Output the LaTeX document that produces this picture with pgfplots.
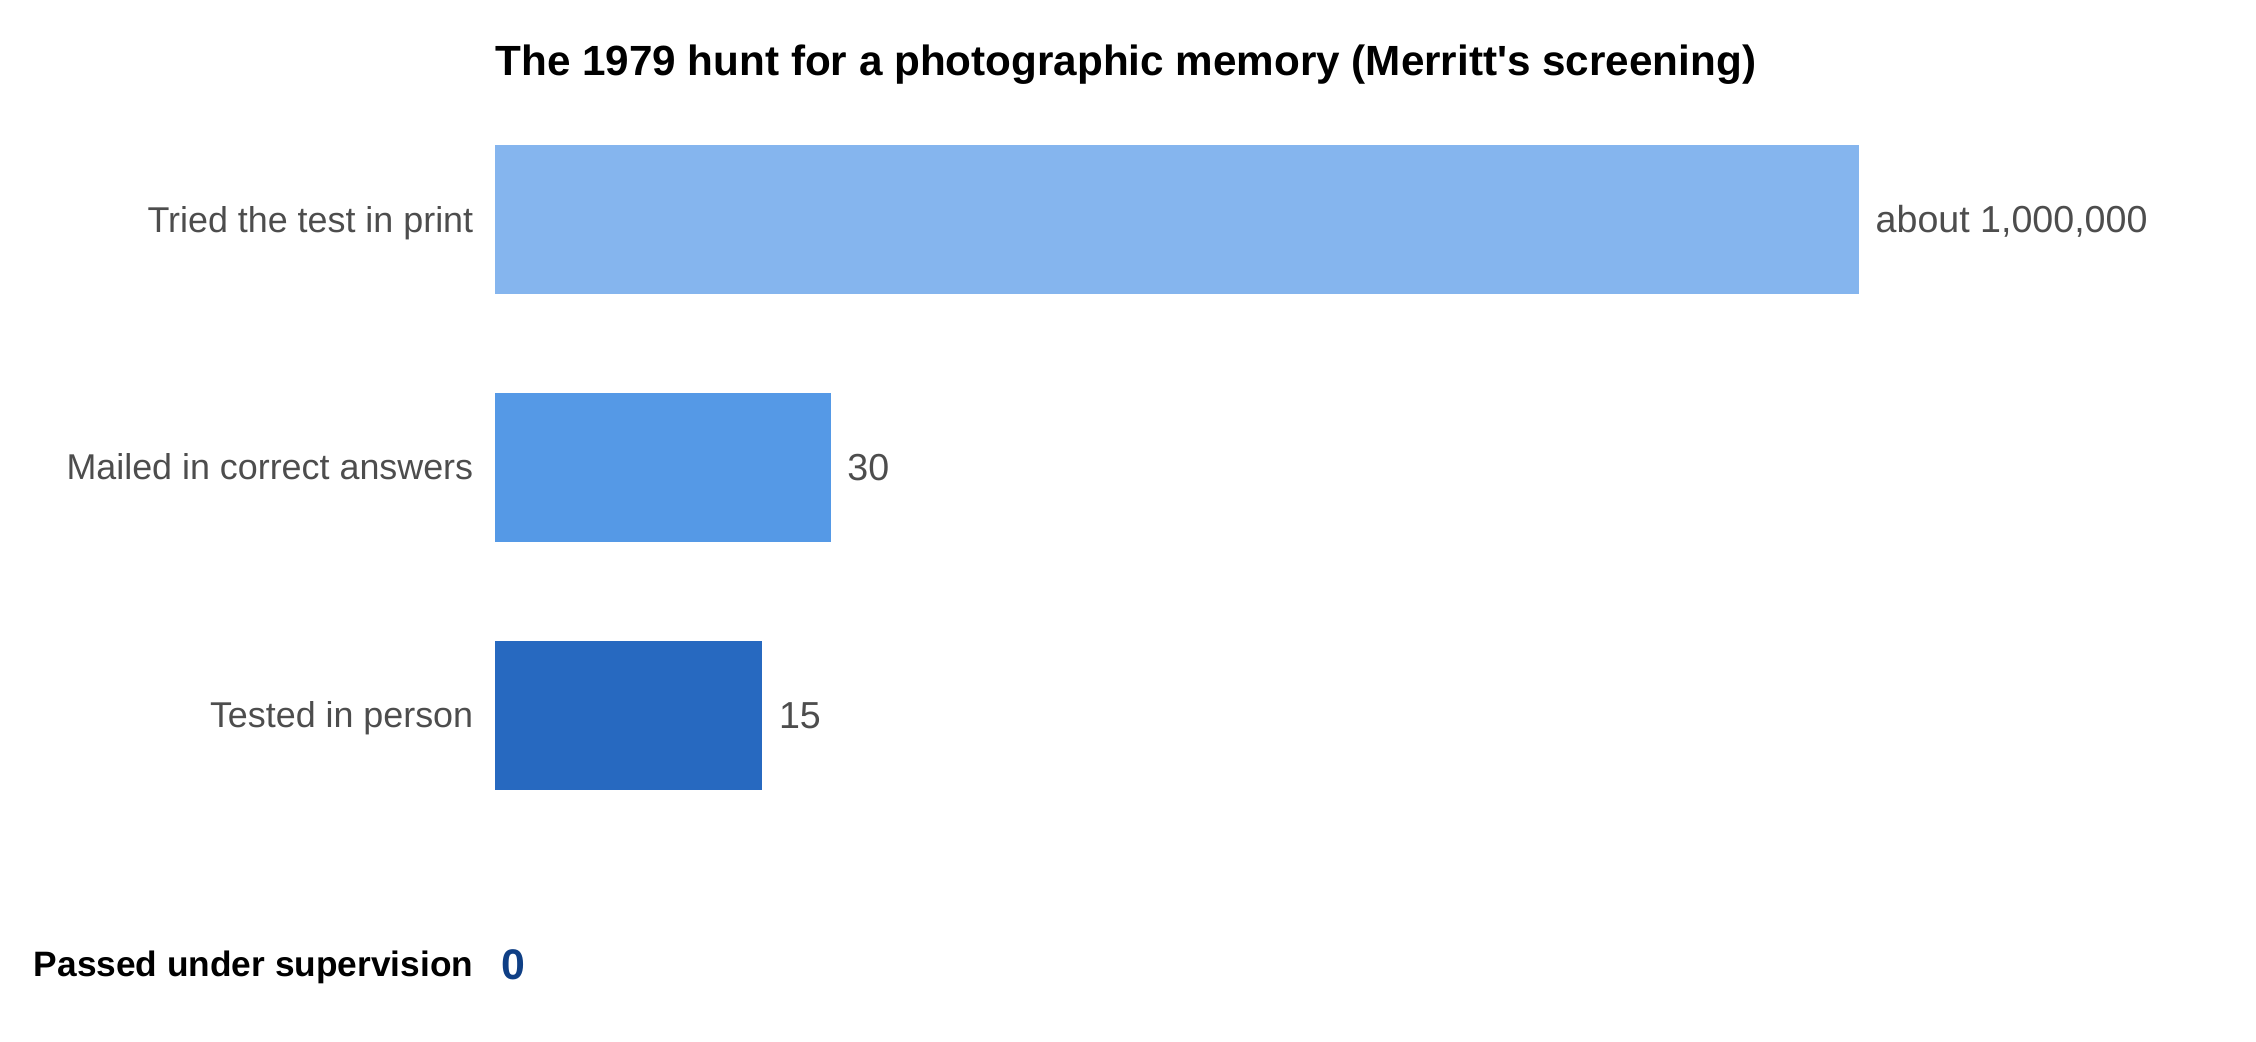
\documentclass[border=0pt]{standalone}
\usepackage{fontspec}
\setmainfont{Liberation Sans}
\usepackage{pgfplots}
\pgfplotsset{compat=1.18}
\definecolor{barA}{HTML}{85B5EE}
\definecolor{barB}{HTML}{5599E6}
\definecolor{barC}{HTML}{2769C0}
\definecolor{lab}{HTML}{4D4D4D}
\definecolor{zero}{HTML}{0F3F85}
\begin{document}
\begin{tikzpicture}
\useasboundingbox (-171.1pt,0pt) rectangle (608.9pt,360pt);
\begin{axis}[name=ax, at={(0pt,0pt)}, anchor=south west,
  scale only axis, width=608.9pt, height=360pt,
  xmode=log, xmin=1, xmax=5.58e7,
  ymin=-0.8851, ymax=3.3156, y dir=reverse,
  axis line style={draw=none},
  xtick=\empty, ytick={0,1,2,3.005},
  yticklabels={Tried the test in print, Mailed in correct answers, Tested in person, {\bfseries\color{black}\fontsize{12.2}{14}\selectfont Passed under supervision}},
  major tick length=0pt,
  yticklabel style={font=\fontsize{12.4}{14}\selectfont, text=lab, inner sep=0pt, anchor=base east, xshift=-7.3pt, yshift=-4.4pt},
  xbar, bar width=51.5pt,
  clip=false,
  every node near coord/.append style={anchor=base west, inner sep=0pt, xshift=5.6pt, yshift=-4.6pt, font=\fontsize{13}{15}\selectfont, text=lab},
]
\addplot[xbar, bar shift=0pt, fill=barA, draw=none, nodes near coords={about 1,000,000}] coordinates {(1000000,0)};
\addplot[xbar, bar shift=0pt, fill=barB, draw=none, nodes near coords={30}] coordinates {(30,1)};
\addplot[xbar, bar shift=0pt, fill=barC, draw=none, nodes near coords={15}] coordinates {(15,2)};
\node[anchor=base west, font=\bfseries\fontsize{14.6}{17}\selectfont, inner sep=0pt] at (axis cs:1,-0.5816) {The 1979 hunt for a photographic memory (Merritt\textquotesingle s screening)};
\node[anchor=base west, inner sep=0pt, xshift=2pt, yshift=-5.3pt, font=\bfseries\fontsize{14.8}{17}\selectfont, text=zero] at (axis cs:1,3.005) {0};
\end{axis}
\end{tikzpicture}
\end{document}
